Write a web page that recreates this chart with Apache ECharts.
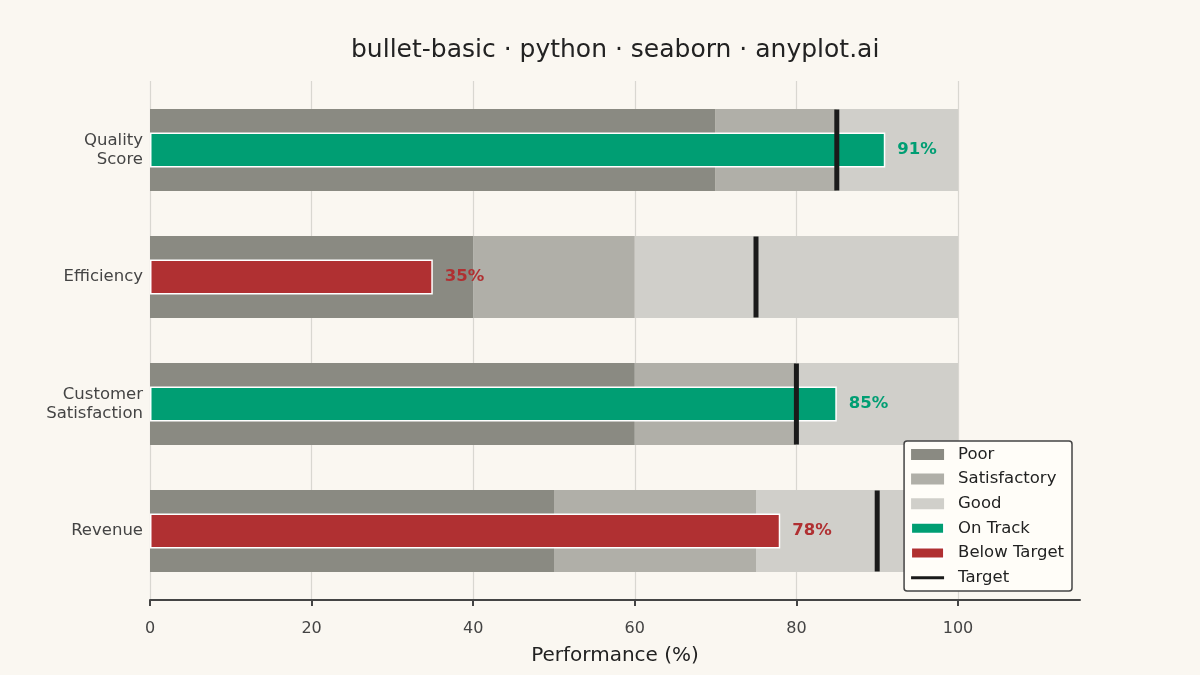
<!DOCTYPE html>
<html>
<head>
<meta charset="utf-8">
<script src="https://cdn.jsdelivr.net/npm/echarts@6/dist/echarts.min.js"></script>
<style>
  html, body { margin: 0; padding: 0; background: #faf7f1; }
  #chart { width: 1200px; height: 675px; }
</style>
</head>
<body>
<div id="chart"></div>
<script>
// bullet chart data
const categories = ['Quality Score', 'Efficiency', 'Customer Satisfaction', 'Revenue'];
const poorMax = [70, 40, 60, 50];
const satisfactoryMax = [85, 60, 80, 75];
const goodMax = [100, 100, 100, 100];
const targets = [85, 75, 80, 90];
const actuals = [91, 35, 85, 78];
const xTicks = [0, 20, 40, 60, 80, 100];

const chart = echarts.init(document.getElementById('chart'));

const textColor = '#444444';
const green = '#009e73';
const red = '#b03032';

// stacked range pieces
const satPart = satisfactoryMax.map((v, i) => v - poorMax[i]);
const goodPart = goodMax.map((v, i) => v - satisfactoryMax[i]);
const onTrack = actuals.map((v, i) => v >= targets[i] ? v : '-');
const below = actuals.map((v, i) => v < targets[i] ? v : '-');

const valueLabel = (color) => ({
  show: true,
  position: 'right',
  distance: 12,
  formatter: p => p.value + '%',
  color: color,
  fontWeight: 'bold',
  fontSize: 16.5,
  fontFamily: 'DejaVu Sans'
});

const option = {
  backgroundColor: '#faf7f1',
  textStyle: { fontFamily: 'DejaVu Sans' },
  animation: false,
  title: {
    text: 'bullet-basic · python · seaborn · anyplot.ai',
    left: 346,
    top: 33,
    textStyle: { fontSize: 25, fontWeight: 'normal', color: '#222222', fontFamily: 'DejaVu Sans' }
  },
  legend: {
    orient: 'vertical',
    right: 128,
    top: 441,
    padding: [5, 8, 5, 6],
    itemWidth: 33,
    itemHeight: 11,
    itemGap: 7.6,
    backgroundColor: '#fffdf8',
    borderColor: '#444444',
    borderWidth: 1.5,
    borderRadius: 3,
    textStyle: { fontSize: 16.5, color: '#222222', padding: [0, 0, 0, 9] },
    data: [
      { name: 'Poor', icon: 'rect' },
      { name: 'Satisfactory', icon: 'rect' },
      { name: 'Good', icon: 'rect' },
      { name: 'On Track', icon: 'rect' },
      { name: 'Below Target', icon: 'rect' },
      { name: 'Target', icon: 'path://M0,0L0,0M0,4L36,4L36,7.5L0,7.5ZM0,11L0,11' }
    ]
  },
  grid: [
    { left: 150, right: 242, top: 86.5, height: 508 },
    { left: 150, right: 242, top: 81, bottom: 75 },
    { left: 150, right: 120, top: 81, bottom: 75 }
  ],
  xAxis: [
    { gridIndex: 0, type: 'value', min: 0, max: 100, show: false },
    {
      gridIndex: 1, type: 'value', min: 0, max: 100, interval: 20,
      axisLine: { show: false },
      axisTick: { show: true, length: 6, lineStyle: { color: textColor, width: 2 } },
      axisLabel: { color: textColor, fontSize: 16, margin: 21,
        formatter: v => xTicks.includes(v) ? String(v) : '' },
      splitLine: { show: true, lineStyle: { color: '#d9d7d1', width: 1.2 } }
    },
    {
      gridIndex: 2, type: 'value', min: 0, max: 115,
      axisLine: { show: true, lineStyle: { color: textColor, width: 2 } },
      axisTick: { show: false },
      axisLabel: { show: false },
      splitLine: { show: false },
      name: 'Performance (%)',
      nameLocation: 'middle',
      nameGap: 46,
      nameTextStyle: { fontSize: 20, color: '#222222' }
    }
  ],
  yAxis: [
    {
      gridIndex: 0, type: 'category', data: categories, inverse: true,
      axisLine: { show: false }, axisTick: { show: false },
      axisLabel: { color: textColor, fontSize: 16.5, margin: 7, lineHeight: 19,
        padding: [8, 0, 0, 0],
        formatter: v => v.replace(' ', '\n') }
    },
    { gridIndex: 0, type: 'category', data: categories, inverse: true, show: false },
    { gridIndex: 1, type: 'value', show: false },
    { gridIndex: 2, type: 'value', show: false }
  ],
  series: [
    { name: 'Poor', type: 'bar', stack: 'range', xAxisIndex: 0, yAxisIndex: 0,
      barWidth: 82, data: poorMax, itemStyle: { color: '#8a8a82' }, silent: true },
    { name: 'Satisfactory', type: 'bar', stack: 'range', xAxisIndex: 0, yAxisIndex: 0,
      barWidth: 82, data: satPart, itemStyle: { color: '#b0afa8' }, silent: true },
    { name: 'Good', type: 'bar', stack: 'range', xAxisIndex: 0, yAxisIndex: 0,
      barWidth: 82, data: goodPart, itemStyle: { color: '#d0cfca' }, silent: true },
    { name: 'On Track', type: 'bar', stack: 'actual', xAxisIndex: 0, yAxisIndex: 1,
      barWidth: 35, data: onTrack, z: 3,
      itemStyle: { color: green, borderColor: '#ffffff', borderWidth: 1.5 },
      label: valueLabel(green) },
    { name: 'Below Target', type: 'bar', stack: 'actual', xAxisIndex: 0, yAxisIndex: 1,
      barWidth: 35, data: below, z: 3,
      itemStyle: { color: red, borderColor: '#ffffff', borderWidth: 1.5 },
      label: valueLabel(red) },
    { name: 'Target', type: 'scatter', xAxisIndex: 0, yAxisIndex: 0,
      symbol: 'rect', symbolSize: [5, 81], z: 5,
      itemStyle: { color: '#1a1a1a', opacity: 1 },
      data: targets.map((t, i) => [t, categories[i]]) }
  ]
};

chart.setOption(option);
</script>
</body>
</html>
